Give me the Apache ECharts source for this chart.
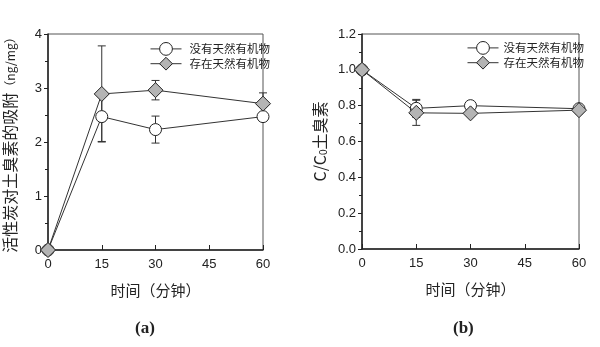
<!DOCTYPE html>
<html>
<head>
<meta charset="utf-8">
<script src="https://cdn.jsdelivr.net/npm/echarts@6/dist/echarts.min.js"></script>
<style>html,body{margin:0;padding:0;background:#fff}#c{width:600px;height:347px}</style>
</head>
<body>
<div id="c"></div>
<script>
const times = [0, 15, 30, 60];
const xTicks = [0, 15, 30, 45, 60];
const seriesNames = ['没有天然有机物', '存在天然有机物'];
// Panel (a): adsorption (ng/mg)
const adsNoNOM = [0, 2.47, 2.23, 2.47];
const adsNoNOMErr = [0, 0.46, 0.25, 0.05];
const adsNOM = [0, 2.89, 2.96, 2.71];
const adsNOMErr = [0, 0.89, 0.18, 0.2];
// Panel (b): C/C0
const ratioNoNOM = [1.0, 0.785, 0.80, 0.783];
const ratioNoNOMErr = [0, 0.05, 0.01, 0.01];
const ratioNOM = [1.0, 0.76, 0.757, 0.775];
const ratioNOMErr = [0, 0.07, 0.015, 0.02];

const CJK = '"Noto Sans CJK SC", sans-serif';
const LAT = '"Liberation Sans", Arial, sans-serif';
const ink = '#222';

function pts(vals) { return times.map((t, i) => [t, vals[i]]); }
function errPts(vals, errs) {
  return times.map((t, i) => [t, vals[i] - errs[i], vals[i] + errs[i]]).filter((d, i) => errs[i] > 0);
}
function errRender(params, api) {
  const x = api.value(0);
  const p1 = api.coord([x, api.value(1)]);
  const p2 = api.coord([x, api.value(2)]);
  const c = 4;
  const st = { stroke: '#333', lineWidth: 1 };
  return { type: 'group', children: [
    { type: 'line', shape: { x1: p1[0], y1: p1[1], x2: p2[0], y2: p2[1] }, style: st },
    { type: 'line', shape: { x1: p1[0] - c, y1: p1[1], x2: p1[0] + c, y2: p1[1] }, style: st },
    { type: 'line', shape: { x1: p2[0] - c, y1: p2[1], x2: p2[0] + c, y2: p2[1] }, style: st }
  ] };
}
function errSeries(idx, vals, errs) {
  return { type: 'custom', xAxisIndex: idx, yAxisIndex: idx, renderItem: errRender,
    data: errPts(vals, errs), z: 1, silent: true, clip: false };
}
function lineSeries(idx, name, vals, open) {
  return {
    type: 'line', name: name, xAxisIndex: idx, yAxisIndex: idx, data: pts(vals),
    symbol: open ? 'circle' : 'diamond', symbolSize: open ? 12 : 15,
    lineStyle: { color: '#333', width: 1 },
    itemStyle: { color: open ? '#ffffff' : '#b4b4b4', borderColor: '#222', borderWidth: 1 },
    z: open ? 3 : 4, clip: false, animation: false
  };
}
function xAxis(idx) {
  return {
    type: 'value', gridIndex: idx, min: 0, max: 60, interval: 15,
    name: '时间（分钟）', nameLocation: 'middle', nameGap: 33,
    nameTextStyle: { fontFamily: CJK, fontSize: 15, color: ink },
    axisLine: { lineStyle: { color: ink, width: 1.5 } },
    axisTick: { inside: true, length: 5, lineStyle: { color: ink } },
    axisLabel: { fontFamily: LAT, fontSize: 13, color: ink, margin: 8 },
    splitLine: { show: false }
  };
}
function legend(left, top, pad) {
  return { data: seriesNames, orient: 'vertical', left: left, top: top, itemWidth: 31, itemHeight: 16, itemGap: 1,
    lineStyle: { width: 1, color: '#333' },
    itemStyle: { borderWidth: 1, borderColor: '#222' },
    textStyle: { fontFamily: CJK, fontSize: 11.5, color: ink, padding: [0, 0, 0, pad] } };
}
const titleStyle = { fontFamily: '"Liberation Serif", serif', fontSize: 17, fontWeight: 'bold', color: ink };
const option = {
  animation: false,
  backgroundColor: '#fff',
  title: [
    { text: '(a)', left: 130, top: 315, textStyle: titleStyle },
    { text: '(b)', left: 448, top: 315, textStyle: titleStyle }
  ],
  grid: [
    { left: 48, top: 34, width: 215, height: 216, show: true, borderColor: '#555', borderWidth: 1 },
    { left: 362, top: 34, width: 217, height: 215, show: true, borderColor: '#555', borderWidth: 1 }
  ],
  legend: [legend(145, 37, 3), legend(462, 36, 0)],
  xAxis: [xAxis(0), xAxis(1)],
  yAxis: [
    {
      type: 'value', gridIndex: 0, min: 0, max: 4, interval: 1,
      name: '活性炭对土臭素的吸附{s|（ng/mg）}', nameLocation: 'middle', nameGap: 30, nameRotate: 90,
      nameTextStyle: { fontFamily: CJK, fontSize: 16, color: ink, rich: { s: { fontFamily: CJK, fontSize: 12, color: ink } } },
      axisLine: { show: true, lineStyle: { color: ink, width: 1.5 } },
      axisTick: { show: true, inside: false, length: 4, lineStyle: { color: ink } },
      minorTick: { show: true, splitNumber: 2, length: 3, lineStyle: { color: ink } },
      axisLabel: { fontFamily: LAT, fontSize: 13, color: ink, margin: 6 },
      splitLine: { show: false }
    },
    {
      type: 'value', gridIndex: 1, min: 0, max: 1.2, interval: 0.2,
      name: 'C/C{sub|0}土臭素', nameLocation: 'middle', nameGap: 33, nameRotate: 90,
      nameTextStyle: { fontFamily: CJK, fontSize: 16, color: ink,
        rich: { sub: { fontFamily: LAT, fontSize: 10, color: ink, verticalAlign: 'bottom', padding: [8, 0, 0, 0] } } },
      axisLine: { show: true, lineStyle: { color: ink, width: 1.5 } },
      axisTick: { show: true, inside: false, length: 4, lineStyle: { color: ink } },
      minorTick: { show: true, splitNumber: 2, length: 3, lineStyle: { color: ink } },
      axisLabel: { fontFamily: LAT, fontSize: 13, color: ink, margin: 6, formatter: v => v.toFixed(1) },
      splitLine: { show: false }
    }
  ],
  series: [
    errSeries(0, adsNoNOM, adsNoNOMErr),
    errSeries(0, adsNOM, adsNOMErr),
    lineSeries(0, seriesNames[0], adsNoNOM, true),
    lineSeries(0, seriesNames[1], adsNOM, false),
    errSeries(1, ratioNoNOM, ratioNoNOMErr),
    errSeries(1, ratioNOM, ratioNOMErr),
    lineSeries(1, seriesNames[0], ratioNoNOM, true),
    lineSeries(1, seriesNames[1], ratioNOM, false)
  ]
};
const chart = echarts.init(document.getElementById('c'), null, { renderer: 'canvas' });
chart.setOption(option);
</script>
</body>
</html>
